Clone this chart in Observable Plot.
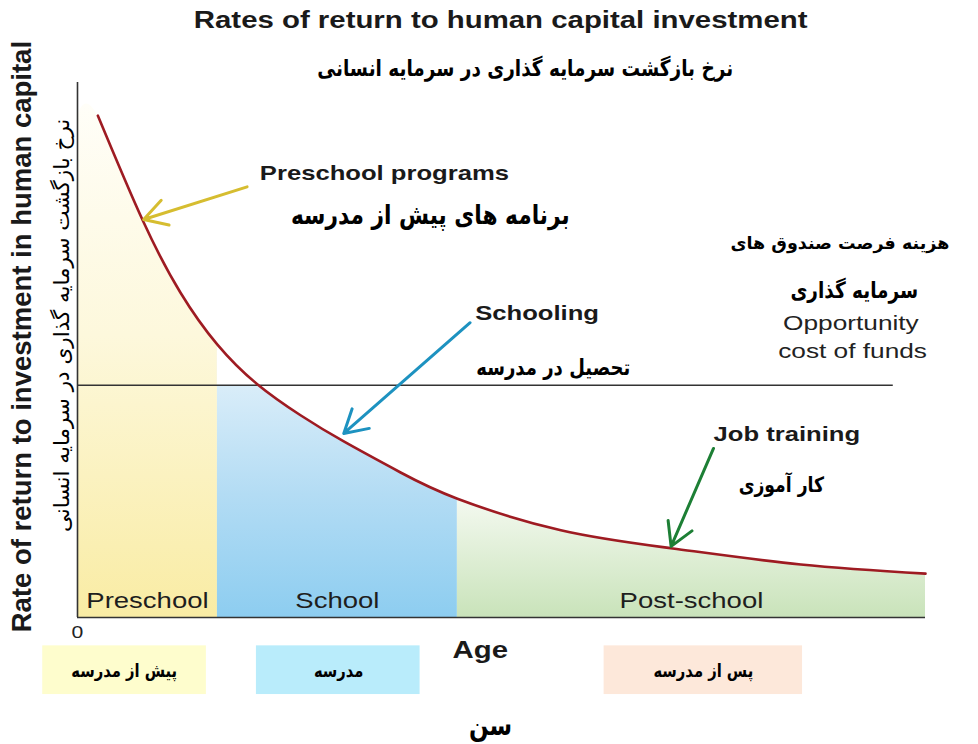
<!DOCTYPE html>
<html>
<head>
<meta charset="utf-8">
<script src="https://cdn.jsdelivr.net/npm/d3@7"></script>
<script src="https://cdn.jsdelivr.net/npm/@observablehq/plot@0.6"></script>
<style>
  body { margin: 0; background: #ffffff; }
  #chart svg { display: block; }
</style>
</head>
<body>
<div id="chart"></div>
<script>
// ---- data (age in arbitrary units 0–100, rate 0–100) ----
const age  = [2.4, 7.7, 12.15, 16.5, 21.2, 26.3, 31.4, 38.1, 44.8, 57.0, 70.2, 85.3, 100];
const rate = [93.8, 74.2, 60.7, 51.0, 43.6, 37.8, 32.9, 27.1, 22.2, 16.3, 12.9, 9.9, 8.2];
const opportunityCost = 43.4;
const opportunityEnd = 96.2;

const stages     = ["Preschool", "School", "Post-school"];
const stagesFa   = ["پیش از مدرسه", "مدرسه", "پس از مدرسه"];
const stageStart = [0, 16.5, 44.8];
const stageEnd   = [16.5, 44.8, 100];

const titleEn = "Rates of return to human capital investment";
const titleFa = "نرخ بازگشت سرمایه گذاری در سرمایه انسانی";
const yLabelEn = "Rate of return to investment in human capital";
const yLabelFa = "نرخ بازگشت سرمایه گذاری در سرمایه انسانی";
const xLabelEn = "Age";
const xLabelFa = "سن";
const costFa1 = "هزینه فرصت صندوق های";
const costFa2 = "سرمایه گذاری";

// ---- tables built from the arrays ----
const curve = age.map((a, i) => ({age: a, rate: rate[i]}));
const inStage = (k) => curve.filter(d => d.age >= stageStart[k] && d.age <= stageEnd[k]);
const preschoolArea = [{age: stageStart[0], rate: rate[0]}, ...inStage(0)];
const schoolArea = inStage(1);
const postArea = inStage(2);
const stageTable = stages.map((s, i) => ({stage: s, x1: stageStart[i], x2: stageEnd[i], mid: (stageStart[i] + stageEnd[i]) / 2}));

const EN = "Liberation Sans, Arial, Helvetica, sans-serif";
const FA = "DejaVu Sans, sans-serif";
const SMOOTH = "natural";

const chart = Plot.plot({
  width: 978,
  height: 744,
  marginLeft: 77,
  marginRight: 53,
  marginTop: 82,
  marginBottom: 127,
  x: {domain: [0, 100], axis: null},
  y: {domain: [0, 100], axis: null},
  marks: [
    // stage fills
    Plot.areaY(preschoolArea, {x: "age", y: "rate", fill: "url(#gradYellow)", curve: SMOOTH}),
    Plot.areaY(schoolArea, {x: "age", y: "rate", fill: "url(#gradBlue)", curve: SMOOTH}),
    // school fill stops at the opportunity-cost line
    Plot.rect([stageTable[1]], {x1: "x1", x2: "x2", y1: opportunityCost, y2: 100, fill: "#ffffff"}),
    Plot.areaY(postArea, {x: "age", y: "rate", fill: "url(#gradGreen)", curve: SMOOTH}),
    // stage labels inside the plot
    Plot.text(stageTable, {x: "mid", y: 3.0, text: "stage", fontFamily: EN, fontSize: 22, fill: "#1e1e1e"}),
    // axes
    Plot.ruleX([0], {stroke: "#333", strokeWidth: 1.6}),
    Plot.ruleY([0], {stroke: "#333", strokeWidth: 1.6}),
    // opportunity cost line
    Plot.ruleY([opportunityCost], {x1: 0, x2: opportunityEnd, stroke: "#333", strokeWidth: 1.6}),
    // the curve
    Plot.line(curve, {x: "age", y: "rate", stroke: "#9e1b22", strokeWidth: 2.6, curve: SMOOTH}),
    // arrows
    Plot.arrow([{x1: 20.0, y1: 80.5, x2: 7.8, y2: 74.4}], {x1: "x1", y1: "y1", x2: "x2", y2: "y2", stroke: "#d6bd30", strokeWidth: 3, headLength: 13}),
    Plot.arrow([{x1: 46.3, y1: 55.1, x2: 31.4, y2: 34.4}], {x1: "x1", y1: "y1", x2: "x2", y2: "y2", stroke: "#1d92c0", strokeWidth: 3, headLength: 13}),
    Plot.arrow([{x1: 75.0, y1: 31.6, x2: 70.0, y2: 13.3}], {x1: "x1", y1: "y1", x2: "x2", y2: "y2", stroke: "#1d7f35", strokeWidth: 3, headLength: 13}),
    // titles
    Plot.text([titleEn], {x: 49.9, y: 111.6, text: d => d, fontFamily: EN, fontWeight: "bold", fontSize: 23.5, fill: "#1a1a1a"}),
    Plot.text([titleFa], {x: 52.8, y: 102.6, text: d => d, fontFamily: FA, fontWeight: "bold", fontSize: 22.5, fill: "#000"}),
    // y labels
    Plot.text([yLabelEn], {x: -6.5, y: 52.5, text: d => d, rotate: -90, fontFamily: EN, fontWeight: "bold", fontSize: 27.5, fill: "#1a1a1a"}),
    Plot.text([yLabelFa], {x: -1.8, y: 54.6, text: d => d, rotate: -90, fontFamily: FA, fontSize: 21.5, fill: "#000"}),
    // annotations
    Plot.text(["Preschool programs"], {x: 21.5, y: 83.0, text: d => d, textAnchor: "start", fontFamily: EN, fontWeight: "bold", fontSize: 20.5, fill: "#1a1a1a"}),
    Plot.text(["برنامه های پیش از مدرسه"], {x: 41.6, y: 75.1, text: d => d, fontFamily: FA, fontWeight: "bold", fontSize: 26.5, fill: "#000"}),
    Plot.text(["Schooling"], {x: 46.9, y: 56.8, text: d => d, textAnchor: "start", fontFamily: EN, fontWeight: "bold", fontSize: 20.5, fill: "#1a1a1a"}),
    Plot.text(["تحصیل در مدرسه"], {x: 56.1, y: 46.7, text: d => d, fontFamily: FA, fontWeight: "bold", fontSize: 22, fill: "#000"}),
    Plot.text([costFa1], {x: 89.9, y: 69.9, text: d => d, fontFamily: FA, fontWeight: "bold", fontSize: 17.5, fill: "#000"}),
    Plot.text([costFa2], {x: 91.6, y: 61.1, text: d => d, fontFamily: FA, fontWeight: "bold", fontSize: 22.5, fill: "#000"}),
    Plot.text(["Opportunity"], {x: 91.2, y: 55.0, text: d => d, fontFamily: EN, fontSize: 21, fill: "#222"}),
    Plot.text(["cost of funds"], {x: 91.4, y: 49.7, text: d => d, fontFamily: EN, fontSize: 21, fill: "#222"}),
    Plot.text(["Job training"], {x: 75.0, y: 34.2, text: d => d, textAnchor: "start", fontFamily: EN, fontWeight: "bold", fontSize: 20.5, fill: "#1a1a1a"}),
    Plot.text(["کار آموزی"], {x: 83.0, y: 24.7, text: d => d, fontFamily: FA, fontWeight: "bold", fontSize: 21, fill: "#000"}),
    // x-axis texts
    Plot.text(["0"], {x: 0, y: -2.9, text: d => d, fontFamily: EN, fontSize: 17, fill: "#222"}),
    Plot.text([xLabelEn], {x: 47.5, y: -6.2, text: d => d, fontFamily: EN, fontWeight: "bold", fontSize: 23.5, fill: "#1a1a1a"}),
    Plot.text([xLabelFa], {x: 48.7, y: -20.2, text: d => d, fontFamily: FA, fontWeight: "bold", fontSize: 28, fill: "#000"}),
    // Persian stage boxes below the axis
    Plot.rect([
      {k: 0, x1: -4.1, x2: 15.2, fill: "#fefdcd"},
      {k: 1, x1: 21.1, x2: 40.4, fill: "#b9ecfb"},
      {k: 2, x1: 62.1, x2: 85.5, fill: "#fde8da"}
    ], {x1: "x1", x2: "x2", y1: -5.3, y2: -14.4, fill: "fill"}),
    Plot.text([
      {k: 0, x: 5.5}, {k: 1, x: 30.8}, {k: 2, x: 73.8}
    ], {x: "x", y: -10.0, text: d => stagesFa[d.k], fontFamily: FA, fontWeight: "bold", fontSize: 18, fill: "#000"})
  ]
});

// gradients for the stage fills
const defs = d3.select(chart).insert("defs", ":first-child");
function gradient(id, stops) {
  const g = defs.append("linearGradient").attr("id", id)
    .attr("x1", 0).attr("y1", 0).attr("x2", 0).attr("y2", 1);
  stops.forEach(([o, c]) => g.append("stop").attr("offset", o).attr("stop-color", c));
}
gradient("gradYellow", [[0, "#fffef8"], [0.45, "#fdf8dc"], [1, "#f9eca4"]]);
gradient("gradBlue",   [[0, "#e2f0fa"], [0.15, "#d9edf9"], [0.55, "#b3dcf4"], [1, "#8dcdf0"]]);
gradient("gradGreen",  [[0, "#f4f9f0"], [1, "#c9e3ba"]]);

document.getElementById("chart").appendChild(chart);

// the reference typesetting is horizontally wide for Latin labels and
// condensed for the Persian ones: adjust the advance of horizontal labels
// (the label next to the right edge keeps its natural advance)
const keepNatural = new Set([costFa1]);
d3.select(chart).selectAll("text").each(function () {
  const fam = (this.closest("[font-family]") || this).getAttribute("font-family") || "";
  const tr = this.getAttribute("transform") || "";
  if (tr.includes("rotate") || keepNatural.has(this.textContent)) return;
  const k = fam.startsWith("Liberation") ? 1.25 : fam.startsWith("DejaVu") ? 0.82 : 1;
  const w = this.getComputedTextLength();
  if (w > 0 && k !== 1) {
    this.setAttribute("textLength", (w * k).toFixed(1));
    this.setAttribute("lengthAdjust", "spacingAndGlyphs");
  }
});
</script>
</body>
</html>
